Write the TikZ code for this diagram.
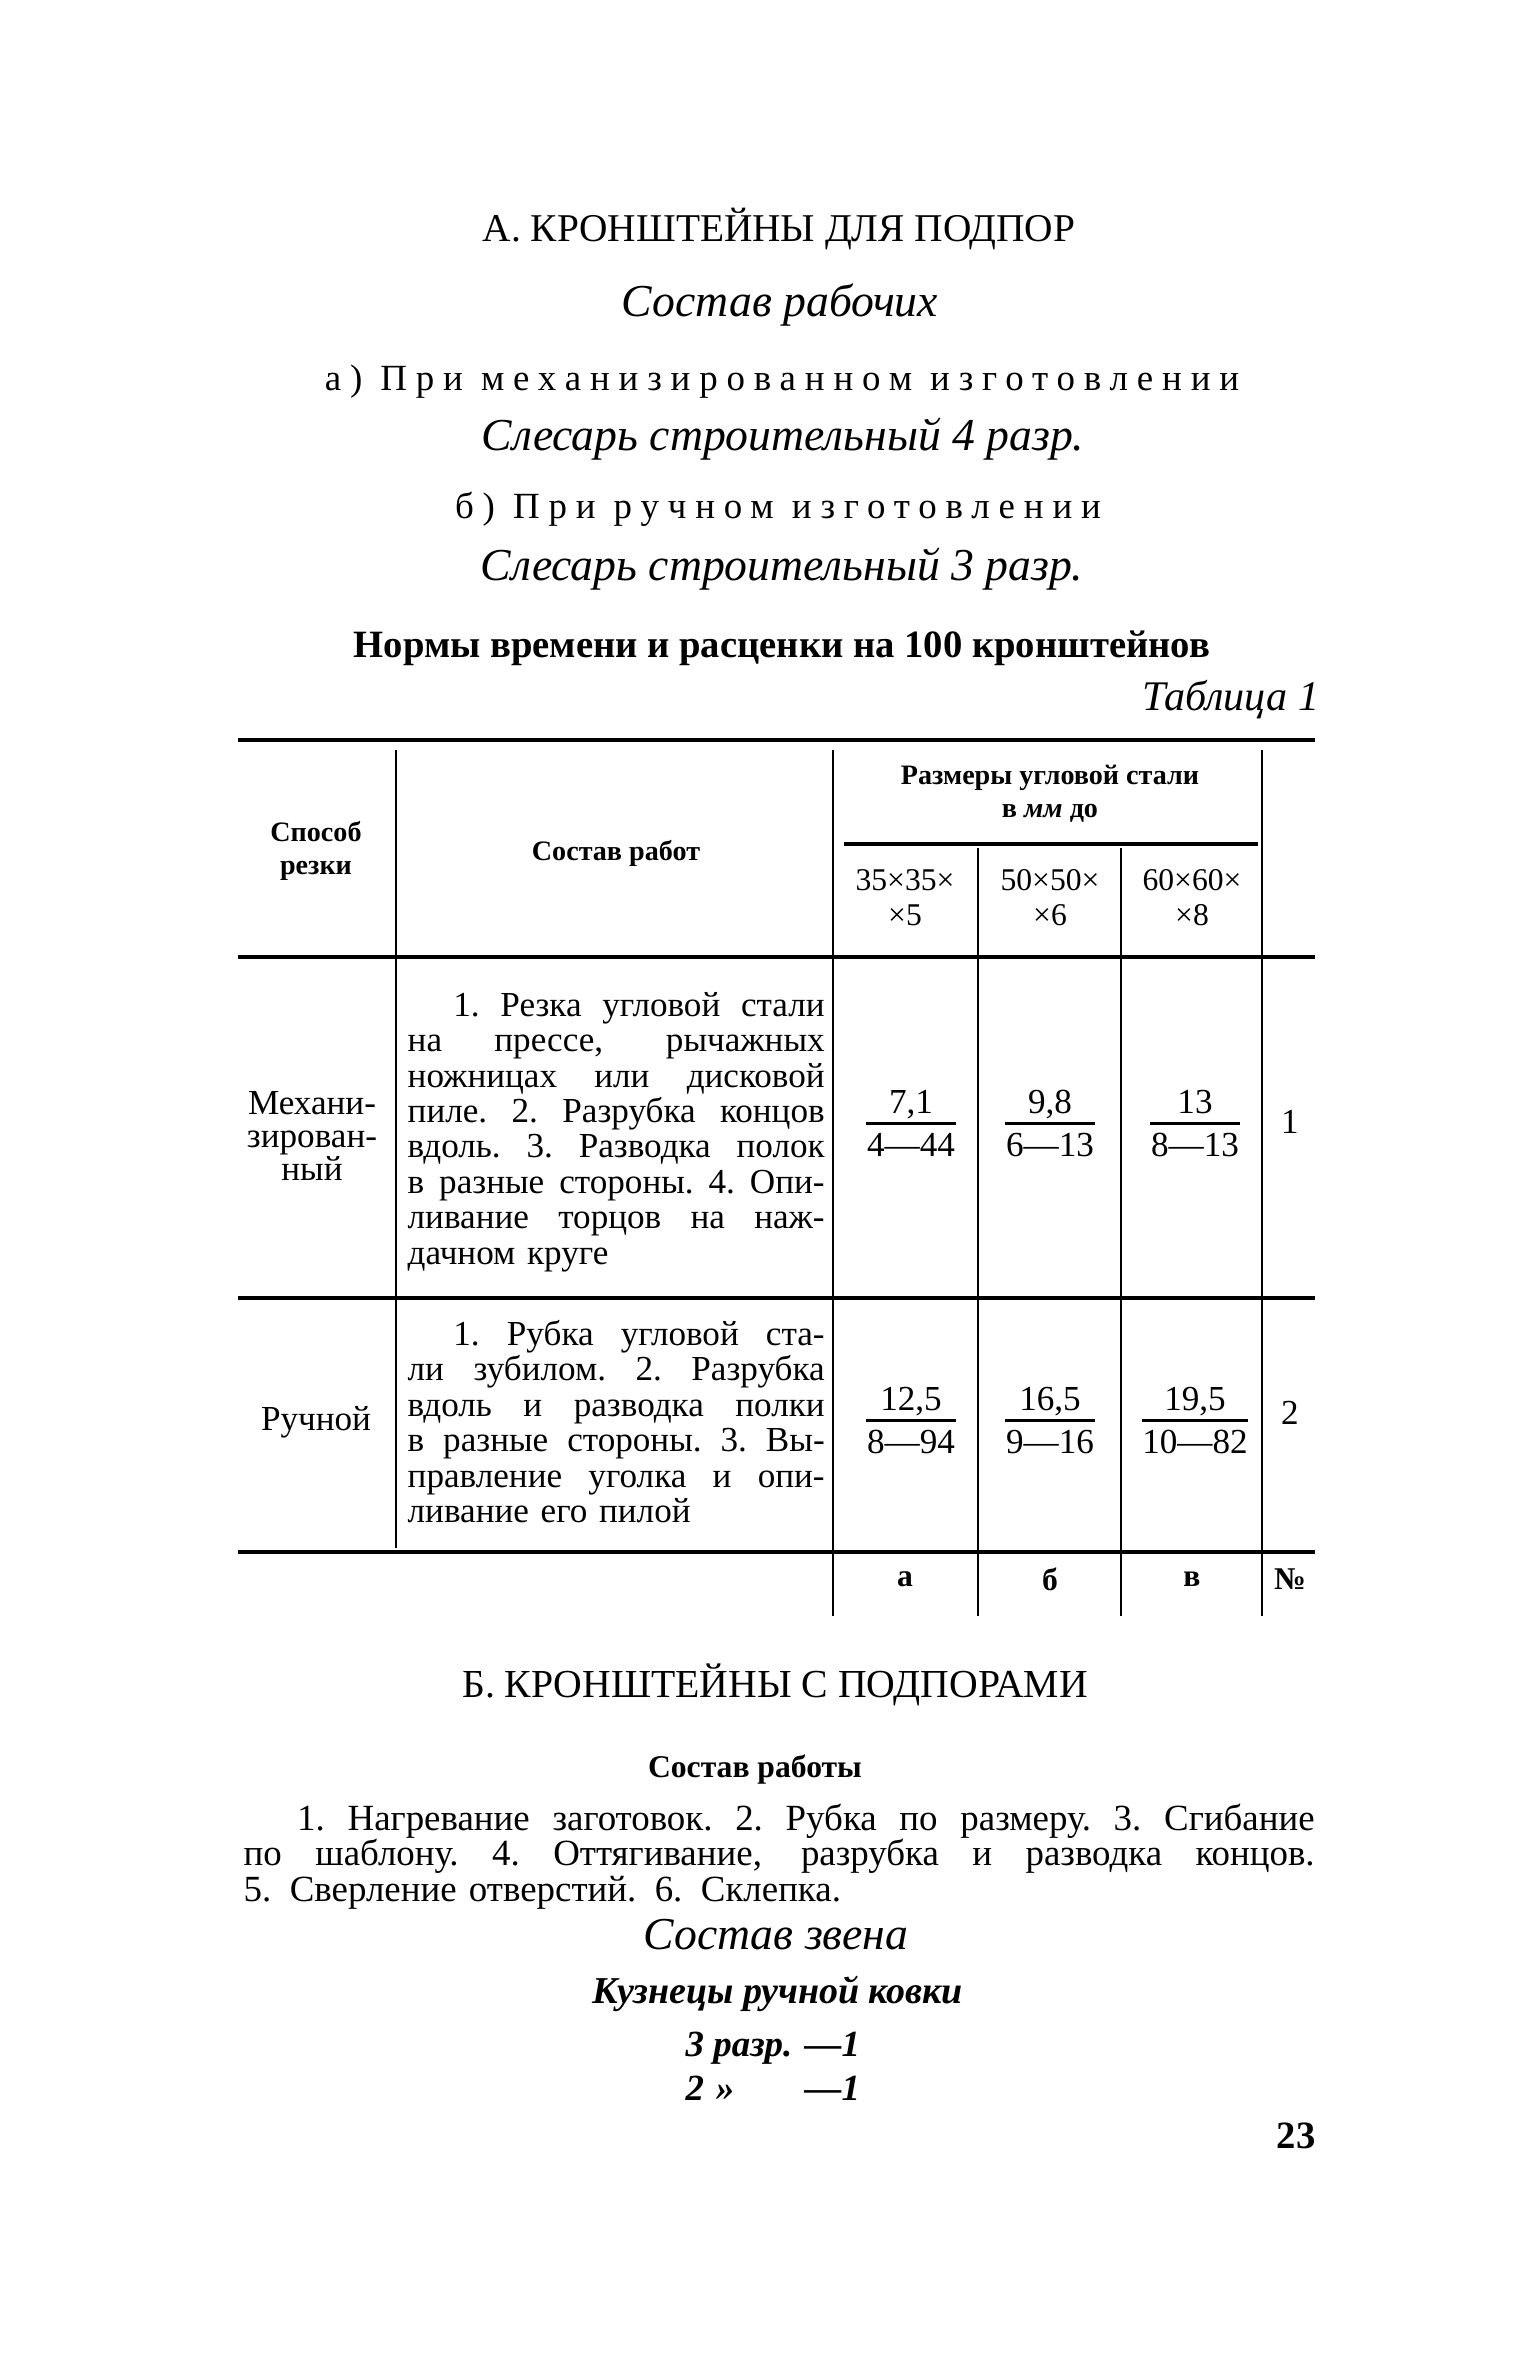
\documentclass[tikz,border=0pt]{standalone}
\usepackage{fontspec}
\setmainfont{Liberation Serif}
\newfontfamily\spacedfont[LetterSpace=24]{Liberation Serif}
\newcommand{\fs}[2]{\fontsize{#1}{#2}\selectfont}
\newlength\colw \setlength\colw{41.7mm}
\newlength\parw \setlength\parw{107.1mm}
\newcommand{\stretchsp}{\spaceskip=.3em plus 3em minus .05em\xspaceskip=\spaceskip\relax}
\newcommand{\jl}[1]{{\stretchsp\makebox[\colw][s]{#1}}}
\newcommand{\jp}[1]{{\stretchsp\makebox[\parw][s]{#1}}}

\tikzset{
  hrule/.style={line width=0.9pt},
  vrule/.style={line width=0.7pt},
  barline/.style={line width=0.8pt},
  txt/.style={inner sep=0pt, anchor=base},
  headcell/.style={inner sep=0pt, font=\fs{8}{9.5}\bfseries, align=center},
  bodycell/.style={inner sep=0pt, anchor=base west, text width=\colw, align=left, font=\fs{10}{10.1}},
  frac/.style={txt, font=\fs{10}{11}},
}

\begin{document}
\begin{tikzpicture}[x=0.1mm,y=-0.1mm]
\fill[white] (0,0) rectangle (1532,2363);
\useasboundingbox (0,0) rectangle (1532,2363);

% titles
\node[txt, font=\fs{11.2}{12}] (titleA) at (779,242) {А. КРОНШТЕЙНЫ ДЛЯ ПОДПОР};
\node[txt, font=\fs{13}{14}\itshape] (workers) at (780,317) {Состав рабочих};
\node[txt, font=\fs{10.5}{11}\spacedfont] (mech) at (782,391) {а) При механизированном изготовлении};
\node[txt, font=\fs{13}{14}\itshape] (fitter4) at (783,451) {Слесарь строительный 4 разр.};
\node[txt, font=\fs{10.5}{11}\spacedfont] (hand) at (778,519) {б) При ручном изготовлении};
\node[txt, font=\fs{13}{14}\itshape] (fitter3) at (782,581) {Слесарь строительный 3 разр.};
\node[txt, font=\fs{11}{12}\bfseries] (norms) at (782,658) {Нормы времени и расценки на 100 кронштейнов};
\node[txt, anchor=base east, font=\fs{12}{13}\itshape] (tabno) at (1320,710) {Таблица 1};

% table rules
\draw[hrule] (238,740) -- (1315,740);
\draw[hrule] (238,957) -- (1315,957);
\draw[hrule] (238,1298) -- (1315,1298);
\draw[hrule] (238,1552) -- (1315,1552);
\draw[hrule] (844,844) -- (1258,844);
\draw[vrule] (396,750) -- (396,1548);
\draw[vrule] (833,750) -- (833,1616);
\draw[vrule] (978,848) -- (978,1616);
\draw[vrule] (1121,848) -- (1121,1616);
\draw[vrule] (1262,750) -- (1262,1616);

% table head
\node[headcell] (hmode) at (316,851) {Способ\\резки};
\node[headcell] (hwork) at (616,853) {Состав работ};
\node[headcell] (hsize) at (1050,794) {Размеры угловой стали\\в \textit{мм} до};
\node[headcell, font=\fs{9}{10}] (hsa) at (905,898) {35×35×\\×5};
\node[headcell, font=\fs{9}{10}] (hsb) at (1050,898) {50×50×\\×6};
\node[headcell, font=\fs{9}{10}] (hsc) at (1192,898) {60×60×\\×8};

% row 1
\node[inner sep=0pt, align=center, font=\fs{10}{9.5}] (mode1) at (312,1136) {Механи-\\зирован-\\ный};
\node[bodycell] (work1) at (407,1016) {\jl{\hspace*{1.3em}1. Резка угловой стали}\\
  \jl{на прессе, рычажных}\\ \jl{ножницах или дисковой}\\ \jl{пиле. 2. Разрубка концов}\\
  \jl{вдоль. 3. Разводка полок}\\ \jl{в разные стороны. 4. Опи-}\\ \jl{ливание торцов на наж-}\\
  дачном круге};
\node[txt, font=\fs{10}{11}] (no1) at (1290,1133) {1};

% row 2
\node[inner sep=0pt, font=\fs{10}{11}] (mode2) at (316,1422) {Ручной};
\node[bodycell] (work2) at (407,1345) {\jl{\hspace*{1.3em}1. Рубка угловой ста-}\\
  \jl{ли зубилом. 2. Разрубка}\\ \jl{вдоль и разводка полки}\\ \jl{в разные стороны. 3. Вы-}\\
  \jl{правление уголка и опи-}\\ ливание его пилой};
\node[txt, font=\fs{10}{11}] (no2) at (1290,1424) {2};

% rates
\foreach \n/\x/\yn/\num/\den in {a1/911/1113/{7,1}/{4—44}, b1/1050/1113/{9,8}/{6—13},
    c1/1195/1113/{13}/{8—13}, a2/911/1410/{12,5}/{8—94}, b2/1050/1410/{16,5}/{9—16},
    c2/1195/1410/{19,5}/{10—82}}{
  \node[frac] (num\n) at (\x,\yn) {\num};
  \node[frac] (den\n) at (\x,\yn+43) {\den};
  \draw[barline] ([yshift=2.5pt]den\n.north west) -- ([yshift=2.5pt]den\n.north east);
}

% column letters
\node[headcell, font=\fs{9}{10}\bfseries] (cola) at (905,1579) {а};
\node[headcell, font=\fs{9}{10}\bfseries] (colb) at (1050,1579) {б};
\node[headcell, font=\fs{9}{10}\bfseries] (colc) at (1192,1579) {в};
\node[headcell, font=\fs{9}{10}\bfseries] (colno) at (1290,1579) {№};

% section B
\node[txt, font=\fs{11.3}{12}] (titleB) at (775,1697) {Б. КРОНШТЕЙНЫ С ПОДПОРАМИ};
\node[txt, font=\fs{9}{10}\bfseries] (jobs) at (755,1777) {Состав работы};
\node[inner sep=0pt, anchor=base west, text width=\parw, align=left, font=\fs{10.5}{10.1}] (jobtext) at (243,1830)
  {\jp{\hspace*{1.45em}1. Нагревание заготовок. 2. Рубка по размеру. 3. Сгибание}\\
   \jp{по шаблону. 4. Оттягивание, разрубка и разводка концов.}\\
   5. Сверление отверстий. 6. Склепка.};
\node[txt, font=\fs{13}{14}\itshape] (team) at (776,1949) {Состав звена};
\node[txt, font=\fs{10.8}{12}\bfseries\itshape] (smiths) at (778,2003) {Кузнецы ручной ковки};
\node[txt, anchor=base west, font=\fs{10.5}{12}\bfseries\itshape] (grade3) at (685,2056) {3 разр. —1};
\node[txt, anchor=base west, font=\fs{10.5}{12}\bfseries\itshape] (grade2) at (685,2100) {2};
\node[txt, font=\fs{10.5}{12}\bfseries\itshape] (ditto) at (725,2100) {»};
\node[txt, anchor=base east, font=\fs{10.5}{12}\bfseries\itshape] (count2) at (grade3.base east |- 0,2100) {—1};

\node[txt, font=\fs{11}{12}\bfseries] (page) at (1296,2148) {23};
\end{tikzpicture}
\end{document}
